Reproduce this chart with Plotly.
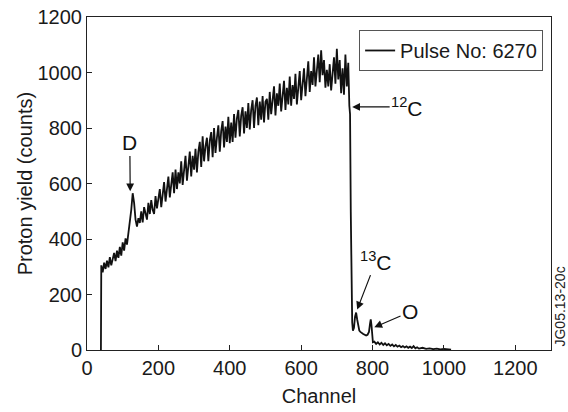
import plotly.graph_objects as go

# Main spectrum values, sampled every 4 channels starting at channel 40
main_values = [
    305, 280, 315, 292, 322, 298, 335, 305, 325, 350, 320, 358, 332, 372, 340, 388, 358, 402, 380,
    420, 450, 505, 565, 530, 470, 445, 475, 458,
    500, 460, 515, 485, 470, 530, 490, 540, 505, 490, 555, 510, 550,
    580, 515, 570, 605, 535, 590, 625, 550, 610, 640, 565, 650, 580, 640, 600, 680, 595, 655, 700, 610, 670, 715, 625, 700, 650,
    725, 640, 715, 750, 660, 770, 680, 735, 765, 680, 755, 785, 695, 800, 710, 765, 810, 715, 790, 825, 730, 805, 750, 840, 745,
    820, 750, 850, 765, 835, 865, 770, 845, 875, 780, 860, 800, 890, 795, 865, 900, 800, 880, 910, 810, 895, 830, 915, 820, 895,
    905, 830, 930, 850, 905, 950, 845, 925, 880, 960, 860, 930, 970, 865, 945, 885, 985, 880, 955, 905, 995, 885, 960, 1005, 900,
    970, 1015, 915, 990, 1040, 930, 1005, 955, 1055, 950, 1025, 1065, 965, 1080, 990, 1045, 945, 1010, 950, 1030, 935, 1010, 1055, 960, 1085,
    975, 1045, 925, 1015, 920, 1065, 950, 1035,
]
main_start = 40
main_step = 4

# Tail of the spectrum (after the 12C edge)
tail_channels = [735, 737, 739, 741, 743, 745, 748, 751, 754, 757, 760, 763, 766, 770, 774, 778, 782, 786, 790,
                 793, 795, 797, 799, 801, 805, 810, 815, 820, 825, 830, 835, 840, 845, 850, 855, 860, 865,
                 870, 875, 880, 885, 890, 895, 900, 905, 910, 915, 920, 925, 930, 940, 950, 960, 970, 980,
                 990, 1000, 1010, 1020]
tail_values = [880, 850, 500, 200, 100, 70, 80, 120, 135, 110, 85, 70, 65, 60, 58, 55, 52, 55, 65,
               95, 110, 90, 50, 28, 30, 22, 28, 20, 26, 18, 24, 17, 22, 15, 20, 13, 18,
               12, 16, 10, 14, 9, 13, 8, 12, 7, 14, 6, 10, 5, 8, 4, 6, 3, 5,
               2, 4, 2, 1]

start_channel = [39]
start_value = [0]

main_channels = list(range(main_start, main_start + main_step * len(main_values), main_step))
channels = start_channel + main_channels + tail_channels
counts = start_value + main_values + tail_values

x_ticks = [0, 200, 400, 600, 800, 1000, 1200]
y_ticks = [0, 200, 400, 600, 800, 1000, 1200]

FONT = "Liberation Sans, Arial, sans-serif"
INK = "#1a1a1a"

fig = go.Figure()
fig.add_trace(go.Scatter(
    x=channels, y=counts, mode="lines", name="Pulse No: 6270",
    line=dict(color="#111", width=1.8),
))

axis_common = dict(
    showgrid=False, zeroline=False, showline=True, linecolor="#222", linewidth=1,
    mirror=True, ticks="inside", ticklen=5, tickcolor="#222", automargin=False,
    tickfont=dict(size=20, color=INK, family=FONT),
)
fig.update_xaxes(range=[0, 1300], tickvals=x_ticks,
                 title=dict(text="Channel", font=dict(size=20, color=INK, family=FONT), standoff=10),
                 **axis_common)
fig.update_yaxes(range=[0, 1200], tickvals=y_ticks, **axis_common)

# y-axis title placed as a rotated text so it sits where the reference has it
fig.add_annotation(x=-0.134, y=0.5, xref="paper", yref="paper", text="Proton yield (counts)",
                   xanchor="center", yanchor="middle", textangle=-90, showarrow=False,
                   font=dict(size=20, color=INK, family=FONT))

ann = dict(showarrow=True, arrowhead=2, arrowsize=1.3, arrowwidth=1.2, arrowcolor="#111",
           xref="x", yref="y", axref="x", ayref="y",
           font=dict(size=21, color="#111", family=FONT))

fig.add_annotation(x=121, y=572, ax=120, ay=746, text="D", **ann)
fig.add_annotation(x=743, y=876, ax=897, ay=876, text="<sup>12</sup>C", **ann)
fig.add_annotation(x=757, y=146, ax=810, ay=322, text="<sup>13</sup>C", **ann)
fig.add_annotation(x=805, y=82, ax=905, ay=137, text="O", **ann)

fig.add_annotation(x=1.019, y=0.13, xref="paper", yref="paper", text="JG05.13-20c",
                   xanchor="center", yanchor="middle",
                   textangle=-90, showarrow=False, font=dict(size=14, color="#222", family=FONT))

fig.update_layout(
    width=568, height=412,
    margin=dict(l=87, r=17, t=17, b=62),
    paper_bgcolor="white", plot_bgcolor="white",
    font=dict(family=FONT, color=INK),
    showlegend=True,
    legend=dict(x=0.983, y=0.961, xanchor="right", yanchor="top",
                bordercolor="#555", borderwidth=1, bgcolor="white",
                font=dict(size=20, color=INK, family=FONT),
                itemwidth=30, tracegroupgap=0),
)

fig.write_html("out.html")
